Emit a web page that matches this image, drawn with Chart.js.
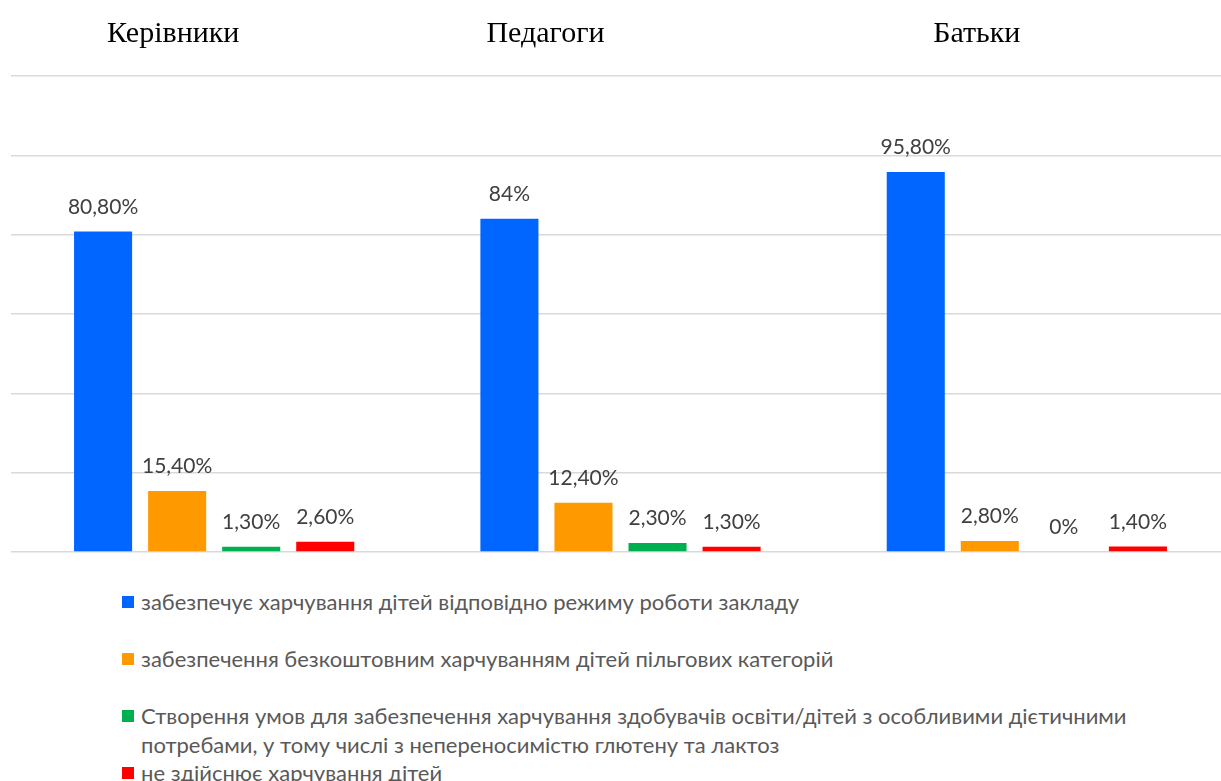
<!DOCTYPE html>
<html lang="uk">
<head>
<meta charset="utf-8">
<script src="https://cdn.jsdelivr.net/npm/chart.js@4"></script>
<style>
    html, body { margin: 0; padding: 0; background: #fff; overflow: hidden; }
    #wrap { position: relative; width: 1221px; height: 781px; overflow: hidden; }
    #chart { position: absolute; left: 0; top: 0; }
    #legend { position: absolute; left: 122px; top: 588px; width: 1020px;
              font-family: Lato, 'Open Sans', sans-serif; font-size: 22px; color: #595959; }
    .item { display: flex; align-items: flex-start; min-height: 57px; line-height: 28.5px; }
    .box { flex: none; width: 12px; height: 12px; margin: 8px 7px 0 0; }
</style>
</head>
<body>
<div id="wrap">
    <canvas id="chart" width="1240" height="556"></canvas>
    <div id="legend"></div>
</div>
<script>
// Data
const groups = ['Керівники', 'Педагоги', 'Батьки'];
const seriesNames = [
    'забезпечує харчування дітей відповідно режиму роботи закладу',
    'забезпечення безкоштовним харчуванням дітей пільгових категорій',
    'Створення умов для забезпечення харчування здобувачів освіти/дітей з особливими дієтичними потребами, у тому числі з непереносимістю глютену та лактоз',
    'не здійснює харчування дітей'
];
const regime = [80.8, 84, 95.8];
const freeMeals = [15.4, 12.4, 2.8];
const dietNeeds = [1.3, 2.3, 0];
const noMeals = [2.6, 1.3, 1.4];
const yTicks = [0, 20, 40, 60, 80, 100, 120];

const colors = ['#0066ff', '#ff9900', '#00b050', '#ff0000'];
const titleShift = [-41, -75, -50]; // group titles sit left of bar groups

const fmt = (v) => v.toLocaleString('uk-UA', { maximumFractionDigits: 2, minimumFractionDigits: v % 1 ? 2 : 0 }) + '%';

// Value labels above bars
const valueLabels = {
    id: 'valueLabels',
    afterDatasetsDraw(chart) {
        const ctx = chart.ctx;
        ctx.save();
        ctx.font = "21px Lato, 'Open Sans', sans-serif";
        ctx.fillStyle = '#404040';
        ctx.textAlign = 'center';
        ctx.textBaseline = 'bottom';
        chart.data.datasets.forEach((ds, i) => {
            chart.getDatasetMeta(i).data.forEach((bar, j) => {
                ctx.fillText(fmt(ds.data[j]), bar.x, bar.y - 14);
            });
        });
        ctx.restore();
    }
};

// Group titles at the top
const groupTitles = {
    id: 'groupTitles',
    afterDraw(chart) {
        const ctx = chart.ctx;
        const x = chart.scales.x;
        ctx.save();
        ctx.font = "30px 'Liberation Serif', 'Times New Roman', serif";
        ctx.fillStyle = '#000';
        ctx.textAlign = 'center';
        ctx.textBaseline = 'middle';
        groups.forEach((g, i) => {
            ctx.fillText(g, x.getPixelForValue(i) + titleShift[i], 34);
        });
        ctx.restore();
    }
};

const chart = new Chart(document.getElementById('chart'), {
    type: 'bar',
    data: {
        labels: groups,
        datasets: [regime, freeMeals, dietNeeds, noMeals].map((d, i) => ({
            label: seriesNames[i],
            data: d,
            backgroundColor: colors[i],
            categoryPercentage: 0.729,
            barPercentage: 0.784
        }))
    },
    options: {
        responsive: false,
        animation: false,
        layout: { padding: { left: 11, right: 10, top: 76, bottom: 4 } },
        plugins: { legend: { display: false }, tooltip: { enabled: false } },
        scales: {
            x: { display: false },
            y: {
                min: 0, max: 120,
                afterBuildTicks: (s) => { s.ticks = yTicks.map(v => ({ value: v })); },
                ticks: { display: false },
                border: { display: false },
                grid: { color: '#d9d9d9', lineWidth: 1.5, drawTicks: false }
            }
        }
    },
    plugins: [valueLabels, groupTitles]
});

// HTML legend
const legendEl = document.getElementById('legend');
chart.data.datasets.forEach((ds) => {
    const item = document.createElement('div');
    item.className = 'item';
    item.innerHTML = `<span class="box" style="background:${ds.backgroundColor}"></span><span>${ds.label}</span>`;
    legendEl.appendChild(item);
});
</script>
</body>
</html>
